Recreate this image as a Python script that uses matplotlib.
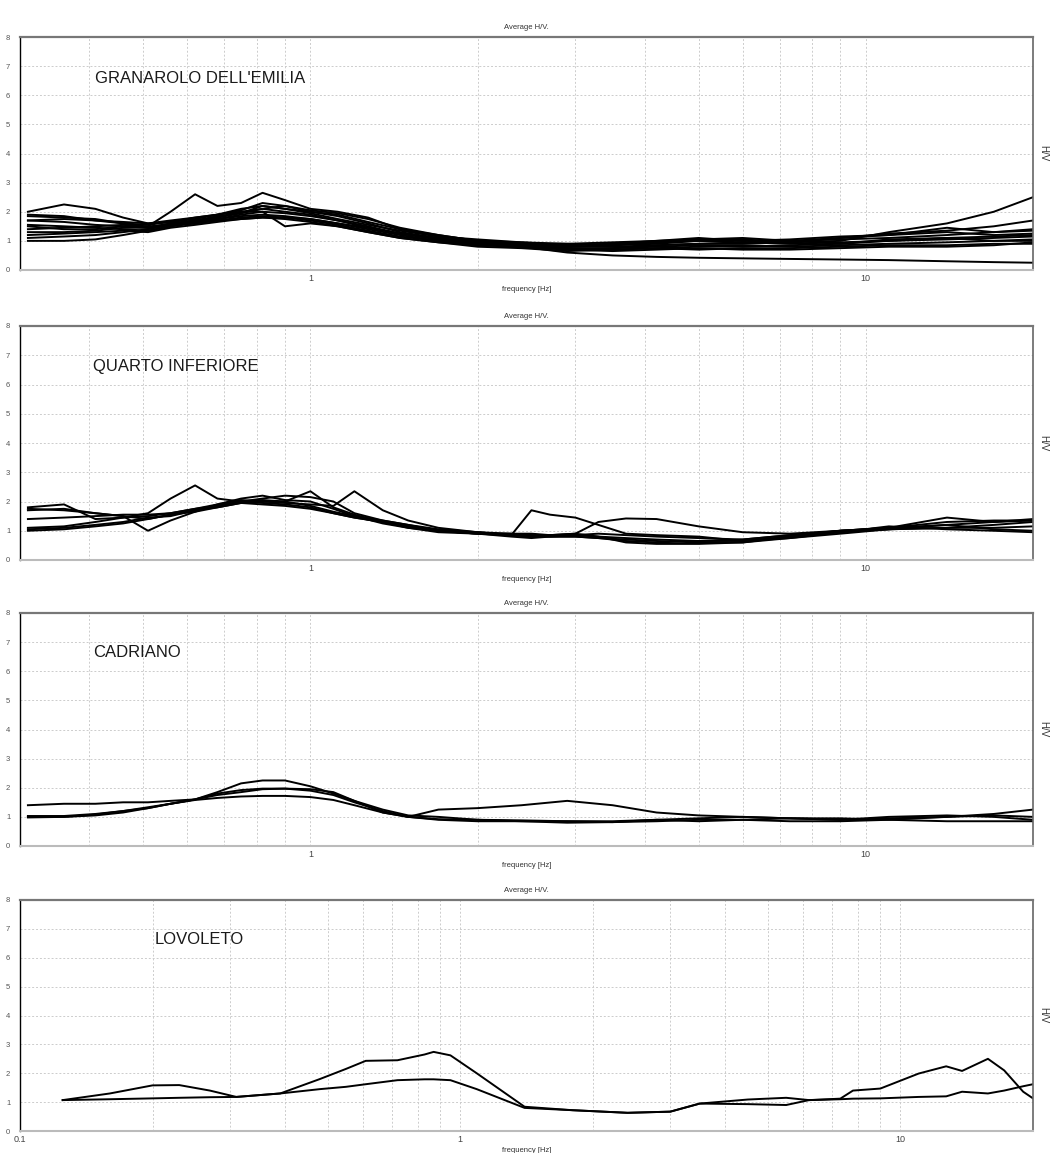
import matplotlib
matplotlib.use("Agg")
from matplotlib import pyplot as plt
from matplotlib.ticker import FuncFormatter, NullFormatter, LogLocator, FixedLocator

plt.rcParams['font.family'] = ['Liberation Sans', 'DejaVu Sans']

# ---- GRANAROLO DELL'EMILIA ----
gran_freq = [0.31, 0.36, 0.41, 0.46, 0.51, 0.56, 0.62, 0.68, 0.75, 0.82, 0.9, 1.0, 1.12, 1.27, 1.45,
             1.7, 2.0, 2.4, 2.9, 3.5, 4.2, 5.0, 6.0, 7.3, 9.0, 11.0, 14.0, 17.0, 20.0]
gran_hv = [
    [2.0, 2.25, 2.1, 1.8, 1.6, 1.7, 1.8, 1.9, 2.0, 2.1, 2.0, 1.9, 1.7, 1.5, 1.25, 1.05, 0.95, 0.9, 0.85, 0.9, 0.95, 1.0, 0.95, 1.0, 1.05, 1.1, 1.2, 1.3, 1.4],
    [1.7, 1.65, 1.55, 1.5, 1.5, 2.0, 2.6, 2.2, 2.3, 2.65, 2.4, 2.1, 2.0, 1.8, 1.4, 1.2, 1.0, 0.9, 0.8, 0.85, 0.9, 1.0, 1.05, 0.95, 1.1, 1.25, 1.35, 1.5, 1.7],
    [1.85, 1.8, 1.75, 1.6, 1.45, 1.6, 1.7, 1.85, 1.95, 2.2, 2.1, 2.0, 1.85, 1.6, 1.3, 1.1, 0.95, 0.85, 0.8, 0.8, 0.85, 0.9, 0.9, 0.95, 1.0, 1.3, 1.6, 2.0, 2.5],
    [1.55, 1.5, 1.45, 1.4, 1.35, 1.5, 1.65, 1.75, 1.85, 1.9, 1.85, 1.75, 1.6, 1.4, 1.2, 1.0, 0.85, 0.8, 0.6, 0.5, 0.45, 0.42, 0.4, 0.38, 0.36, 0.34, 0.3, 0.27, 0.25],
    [1.0, 1.0, 1.05, 1.2, 1.35, 1.5, 1.6, 1.7, 1.8, 1.85, 1.8, 1.7, 1.55, 1.35, 1.15, 1.0, 0.9, 0.8, 0.75, 0.75, 0.8, 0.85, 0.85, 0.8, 0.85, 0.9, 0.95, 1.0, 1.0],
    [1.1, 1.15, 1.2, 1.3, 1.4, 1.55, 1.65, 1.75, 1.9, 2.0, 1.95, 1.85, 1.7, 1.45, 1.25, 1.1, 0.95, 0.85, 0.75, 0.7, 0.75, 0.8, 0.8, 0.85, 0.9, 1.0, 1.05, 1.1, 1.15],
    [1.3, 1.3, 1.35, 1.45, 1.45, 1.6, 1.7, 1.8, 1.95, 2.1, 2.2, 2.0, 1.9, 1.65, 1.4, 1.15, 1.0, 0.9, 0.9, 0.95, 1.0, 1.05, 1.0, 1.05, 1.15, 1.2, 1.3, 1.2, 1.25],
    [1.4, 1.45, 1.5, 1.55, 1.5, 1.55, 1.7, 1.8, 2.0, 2.0, 1.5, 1.6, 1.5, 1.3, 1.1, 0.95, 0.85, 0.8, 0.7, 0.75, 0.85, 0.9, 0.95, 0.9, 0.95, 1.0, 1.1, 1.15, 1.2],
    [1.9, 1.85, 1.7, 1.65, 1.6, 1.65, 1.75, 1.9, 2.05, 2.3, 2.2, 2.05, 1.95, 1.75, 1.45, 1.2, 1.0, 0.95, 0.9, 0.85, 0.95, 1.05, 1.1, 1.0, 0.9, 1.05, 1.1, 1.0, 1.05],
    [1.2, 1.25, 1.3, 1.35, 1.3, 1.45, 1.55, 1.65, 1.75, 1.8, 1.75, 1.65, 1.5, 1.3, 1.1, 0.95, 0.8, 0.75, 0.65, 0.7, 0.75, 0.7, 0.75, 0.75, 0.8, 0.85, 0.85, 0.9, 0.9],
    [1.7, 1.75, 1.7, 1.6, 1.55, 1.65, 1.8, 1.9, 2.1, 2.2, 2.1, 1.95, 1.75, 1.55, 1.35, 1.15, 1.05, 0.95, 0.85, 0.9, 1.0, 1.1, 1.0, 1.0, 1.1, 1.2, 1.45, 1.3, 1.35],
    [1.5, 1.4, 1.4, 1.5, 1.45, 1.55, 1.6, 1.7, 1.75, 1.8, 1.8, 1.75, 1.6, 1.45, 1.25, 1.05, 0.9, 0.8, 0.7, 0.65, 0.7, 0.75, 0.7, 0.7, 0.75, 0.8, 0.8, 0.85, 0.95],
]

# ---- QUARTO INFERIORE ----
quarto_freq = [0.31, 0.36, 0.41, 0.46, 0.51, 0.56, 0.62, 0.68, 0.75, 0.82, 0.9, 1.0, 1.1, 1.2, 1.35, 1.5, 1.7,
               2.0, 2.3, 2.5, 2.7, 3.0, 3.3, 3.7, 4.2, 5.0, 6.0, 7.3, 9.0, 11.0, 14.0, 17.0, 20.0]
quarto_hv = [
    [1.1, 1.15, 1.3, 1.45, 1.6, 2.1, 2.55, 2.1, 2.0, 1.95, 1.9, 1.8, 1.6, 1.45, 1.3, 1.15, 1.0, 0.9, 0.85, 1.7, 1.55, 1.45, 1.2, 0.9, 0.85, 0.8, 0.65, 0.75, 0.9, 1.05, 1.2, 1.3, 1.35],
    [1.8, 1.9, 1.4, 1.45, 1.5, 1.6, 1.75, 1.9, 2.1, 2.2, 2.05, 2.0, 1.75, 1.5, 1.25, 1.1, 0.95, 0.9, 0.9, 0.85, 0.85, 0.9, 1.3, 1.42, 1.4, 1.15, 0.95, 0.9, 1.0, 1.1, 1.45, 1.3, 1.4],
    [1.75, 1.7, 1.6, 1.5, 1.0, 1.35, 1.65, 1.9, 2.05, 2.0, 1.95, 1.9, 1.85, 2.35, 1.7, 1.35, 1.1, 0.95, 0.85, 0.8, 0.85, 0.9, 0.8, 0.6, 0.55, 0.55, 0.6, 0.8, 1.0, 1.1, 1.2, 1.05, 1.0],
    [1.4, 1.45, 1.5, 1.55, 1.55, 1.6, 1.75, 1.85, 2.0, 2.05, 2.0, 1.85, 1.65, 1.5, 1.35, 1.2, 1.05, 0.95, 0.85, 0.85, 0.8, 0.8, 0.75, 0.7, 0.65, 0.6, 0.6, 0.75, 0.95, 1.15, 1.05, 1.0, 0.95],
    [1.05, 1.1, 1.2, 1.3, 1.45, 1.5, 1.7, 1.8, 1.95, 1.9, 1.85, 1.75, 1.6, 1.45, 1.3, 1.15, 1.0, 0.9, 0.8, 0.75, 0.8, 0.85, 0.9, 0.85, 0.8, 0.75, 0.7, 0.85, 1.0, 1.05, 1.1, 1.2, 1.3],
    [1.0, 1.05, 1.15, 1.25, 1.4, 1.55, 1.7, 1.85, 2.0, 2.1, 2.2, 2.15, 2.0, 1.6, 1.35, 1.2, 1.0, 0.95, 0.9, 0.9, 0.85, 0.85, 0.8, 0.75, 0.7, 0.65, 0.65, 0.8, 1.0, 1.1, 1.3, 1.35, 1.35],
    [1.7, 1.75, 1.6, 1.5, 1.4, 1.55, 1.65, 1.8, 1.95, 2.0, 2.0, 2.35, 1.8, 1.55, 1.3, 1.1, 1.0, 0.9, 0.85, 0.8, 0.8, 0.8, 0.75, 0.65, 0.6, 0.65, 0.7, 0.85, 0.95, 1.05, 1.1, 1.1, 1.15],
]

# ---- CADRIANO ----
cadr_freq = [0.31, 0.36, 0.41, 0.46, 0.51, 0.56, 0.62, 0.68, 0.75, 0.82, 0.9, 1.0, 1.1, 1.2, 1.35,
             1.5, 1.7, 2.0, 2.4, 2.9, 3.5, 4.2, 5.0, 6.0, 7.3, 9.0, 11.0, 14.0, 17.0, 20.0]
cadr_hv = [
    [1.4, 1.45, 1.45, 1.5, 1.5, 1.55, 1.6, 1.85, 2.15, 2.25, 2.25, 2.05, 1.8, 1.55, 1.25, 1.05, 1.0, 0.9, 0.85, 0.85, 0.85, 0.9, 0.85, 0.9, 0.85, 0.85, 0.9, 0.85, 0.85, 0.85],
    [1.03, 1.03, 1.1, 1.2, 1.3, 1.45, 1.6, 1.75, 1.85, 1.95, 1.97, 1.95, 1.85, 1.55, 1.15, 1.0, 1.25, 1.3, 1.4, 1.55, 1.4, 1.15, 1.05, 1.0, 0.95, 0.95, 0.9, 1.0, 1.1, 1.25],
    [0.98, 1.0, 1.08, 1.2, 1.33, 1.45, 1.58, 1.65, 1.7, 1.72, 1.72, 1.68, 1.58, 1.4, 1.15, 1.0, 0.92, 0.9, 0.88, 0.85, 0.82, 0.85, 0.9, 0.9, 0.95, 0.9, 0.95, 1.0, 1.05, 1.0],
    [1.0, 1.0, 1.05, 1.15, 1.3, 1.45, 1.6, 1.8, 1.92, 1.97, 1.97, 1.9, 1.75, 1.5, 1.2, 1.0, 0.9, 0.85, 0.85, 0.8, 0.82, 0.9, 0.95, 1.0, 0.95, 0.9, 1.0, 1.05, 1.0, 0.9],
]

# ---- LOVOLETO ----
lov_freq = [0.125, 0.16, 0.2, 0.23, 0.27, 0.31, 0.39, 0.48, 0.55, 0.61, 0.72, 0.83, 0.87, 0.95, 1.09, 1.4, 1.8,
            2.4, 3.0, 3.5, 4.5, 5.5, 6.2, 7.3, 7.8, 9.0, 11.0, 12.7, 13.8, 15.8, 17.2, 19.0, 20.0]
lov_hv = [
    [1.07, 1.3, 1.58, 1.59, 1.4, 1.18, 1.3, 1.8, 2.15, 2.43, 2.45, 2.65, 2.74, 2.62, 2.0, 0.84, 0.72,
     0.63, 0.67, 0.95, 1.09, 1.15, 1.07, 1.12, 1.4, 1.47, 1.99, 2.24, 2.08, 2.5, 2.1, 1.36, 1.13],
    [1.07, 1.1, 1.13, 1.15, 1.17, 1.18, 1.3, 1.45, 1.53, 1.62, 1.76, 1.79, 1.79, 1.76, 1.45, 0.8, 0.72,
     0.63, 0.67, 0.95, 0.93, 0.9, 1.07, 1.1, 1.12, 1.13, 1.18, 1.2, 1.36, 1.3, 1.4, 1.55, 1.62],
]

names = ["GRANAROLO DELL'EMILIA", "QUARTO INFERIORE", "CADRIANO", "LOVOLETO"]
freqs = [gran_freq, quarto_freq, cadr_freq, lov_freq]
curves = [gran_hv, quarto_hv, cadr_hv, lov_hv]
xmins = [0.3, 0.3, 0.3, 0.1]

W, H = 1050, 1153
fig = plt.figure(figsize=(W / 100, H / 100), dpi=100)
# panel boxes in pixels: (top, bottom)
boxes = [(37, 270), (326, 560), (613, 846), (900, 1131)]
name_pos = [(0.074, 0.82), (0.072, 0.825), (0.072, 0.83), (0.133, 0.827)]
left_px, right_px = 20, 1033

grid_kw = dict(color='#cccccc', linestyle=(0, (2, 2)), linewidth=0.7)

for i in range(4):
    top, bot = boxes[i]
    ax = fig.add_axes([left_px / W, 1 - bot / H, (right_px - left_px) / W, (bot - top) / H])
    for hv in curves[i]:
        ax.plot(freqs[i], hv, color='black', linewidth=1.4)
    ax.set_xscale('log')
    ax.set_xlim(xmins[i], 20)
    ax.set_ylim(0, 8)
    ax.set_yticks(range(0, 9))
    if i == 3:
        ax.xaxis.set_major_locator(FixedLocator([0.1, 1, 10]))
    else:
        ax.xaxis.set_major_locator(FixedLocator([1, 10]))
    ax.xaxis.set_minor_locator(LogLocator(base=10, subs=range(2, 10)))
    ax.xaxis.set_major_formatter(FuncFormatter(lambda v, p: '%g' % v))
    ax.xaxis.set_minor_formatter(NullFormatter())
    ax.grid(True, which='both', axis='x', **grid_kw)
    ax.grid(True, which='major', axis='y', **grid_kw)
    ax.tick_params(which='both', length=0)
    ax.tick_params(axis='y', labelsize=5.5, labelcolor='#555555', pad=7)
    ax.tick_params(axis='x', labelsize=6.5, labelcolor='#444444', pad=3)
    ax.spines['left'].set_color('black')
    ax.spines['left'].set_linewidth(1.0)
    ax.spines['top'].set_color('#777777')
    ax.spines['top'].set_linewidth(1.6)
    ax.spines['right'].set_color('#666666')
    ax.spines['right'].set_linewidth(1.2)
    ax.spines['bottom'].set_color('#bbbbbb')
    ax.spines['bottom'].set_linestyle((0, (2, 1)))
    ax.spines['bottom'].set_linewidth(1.5)
    ax.set_title('Average H/V.', fontsize=5.5, color='#333333', pad=6)
    ax.set_xlabel('frequency [Hz]', fontsize=5.5, color='#333333', labelpad=2)
    ax.text(1.01, 0.5, 'H/V', rotation=270, transform=ax.transAxes,
            fontsize=7, color='#333333', ha='center', va='center')
    nx, ny = name_pos[i]
    ax.text(nx, ny, names[i], transform=ax.transAxes, fontsize=12,
            color='#1a1a1a', ha='left', va='center')

plt.savefig('out.png', dpi=100)
